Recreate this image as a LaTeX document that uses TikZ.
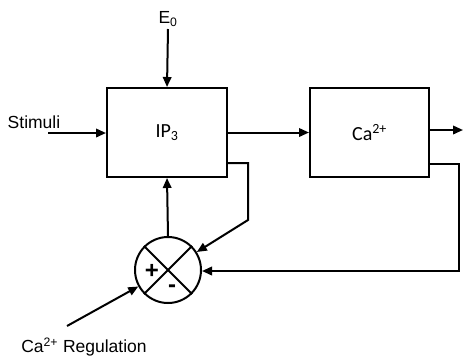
\documentclass[tikz,border=0pt]{standalone}
\usepackage{fontspec}
\setmainfont{Liberation Sans}
\newfontfamily\boxfont{Carlito}
\usetikzlibrary{arrows.meta}
\begin{document}
\begin{tikzpicture}[x=1pt,y=-1pt,
  line width=2pt,
  arr/.style={-{Triangle[length=10pt,width=8.5pt]}},
  blockbox/.style={draw,rectangle,line width=2pt,font=\boxfont\fontsize{20}{22}\selectfont},
  sumnode/.style={draw,circle,minimum size=66pt,inner sep=0pt,line width=2pt},
  lbl/.style={font=\fontsize{17.5}{20}\selectfont,inner sep=0pt}]
\useasboundingbox (0,0) rectangle (463,360);
\node[blockbox,minimum width=120pt,minimum height=89pt] (ip3) at (167,132.5) {IP\textsubscript{3}};
\node[blockbox,minimum width=119pt,minimum height=89pt] (ca) at (369.5,132.5) {Ca\textsuperscript{2+}};
\node[sumnode] (sum) at (168,270) {};
\draw (sum.center) -- (sum.45) (sum.center) -- (sum.135) (sum.center) -- (sum.-45) (sum.center) -- (sum.-135);
\node[lbl,font=\fontsize{24}{26}\selectfont\bfseries] (plus) at (152,271) {+};
\node[lbl,font=\fontsize{24}{26}\selectfont\bfseries] (minus) at (172,289) {-};
\node[lbl] (e0lbl) at (168,19) {E\textsubscript{0}};
\node[lbl] (stlbl) at (34,122) {Stimuli};
\node[lbl] (reglbl) at (84,347) {Ca\textsuperscript{2+} Regulation};
\coordinate (e0) at (168,29);
\coordinate (st) at (48,133);
\coordinate (out) at (463,130);
\coordinate (reg) at (67,326);
\coordinate (fb1a) at (248,163);
\coordinate (fb1b) at (248,220);
\coordinate (fb2a) at (459,164);
\coordinate (fb2b) at (459,271);
\draw[arr] (e0) -- (ip3.north);
\draw[arr] (st) -- (ip3.west |- st);
\draw[arr] (ip3.east) -- (ca.west);
\draw[arr] (ca.east |- out) -- (out);
\draw[arr] (sum.north) -- (ip3.south);
\draw[arr] (ip3.east |- fb1a) -- (fb1a) -- (fb1b) -- (sum);
\draw[arr] (ca.east |- fb2a) -- (fb2a) -- (fb2b) -- (sum.east |- fb2b);
\draw[arr] (reg) -- (sum);
\end{tikzpicture}
\end{document}
